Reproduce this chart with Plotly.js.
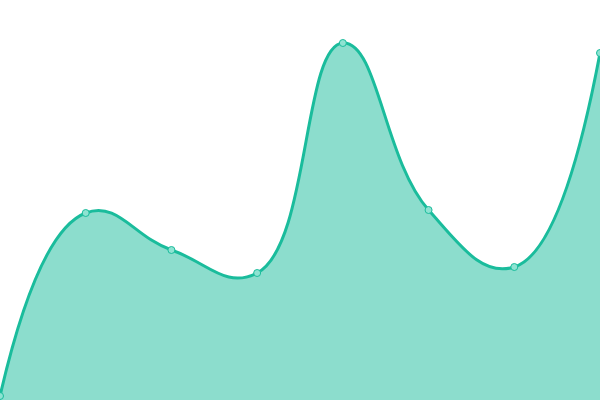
<!DOCTYPE html>
<html><head><meta charset="utf-8">
<script src="https://cdn.plot.ly/plotly-3.0.1.min.js"></script>
<style>html,body{margin:0;padding:0;background:#fff}#c{width:600px;height:400px}</style>
</head><body><div id="c"></div>
<script>
const xs = [0, 1, 2, 3, 4, 5, 6, 7];
const values = [1, 46.75, 37.5, 31.75, 89.25, 47.5, 33.25, 86.75];
Plotly.newPlot('c', [{
  x: xs, y: values, type: 'scatter', mode: 'lines+markers',
  line: {shape: 'spline', smoothing: 1.3, color: '#1abc9c', width: 3},
  fill: 'tozeroy', fillcolor: 'rgba(26,188,156,0.5)',
  marker: {size: 7, color: '#8ee3d2', line: {color: '#1abc9c', width: 1}},
  cliponaxis: true, hoverinfo: 'none'
}], {
  width: 600, height: 400,
  margin: {l: 0, r: 0, t: 0, b: 0},
  paper_bgcolor: '#fff', plot_bgcolor: '#fff',
  showlegend: false,
  xaxis: {range: [0, 7], visible: false, fixedrange: true},
  yaxis: {range: [0, 100], visible: false, fixedrange: true}
}, {displayModeBar: false, staticPlot: true});
</script></body></html>
